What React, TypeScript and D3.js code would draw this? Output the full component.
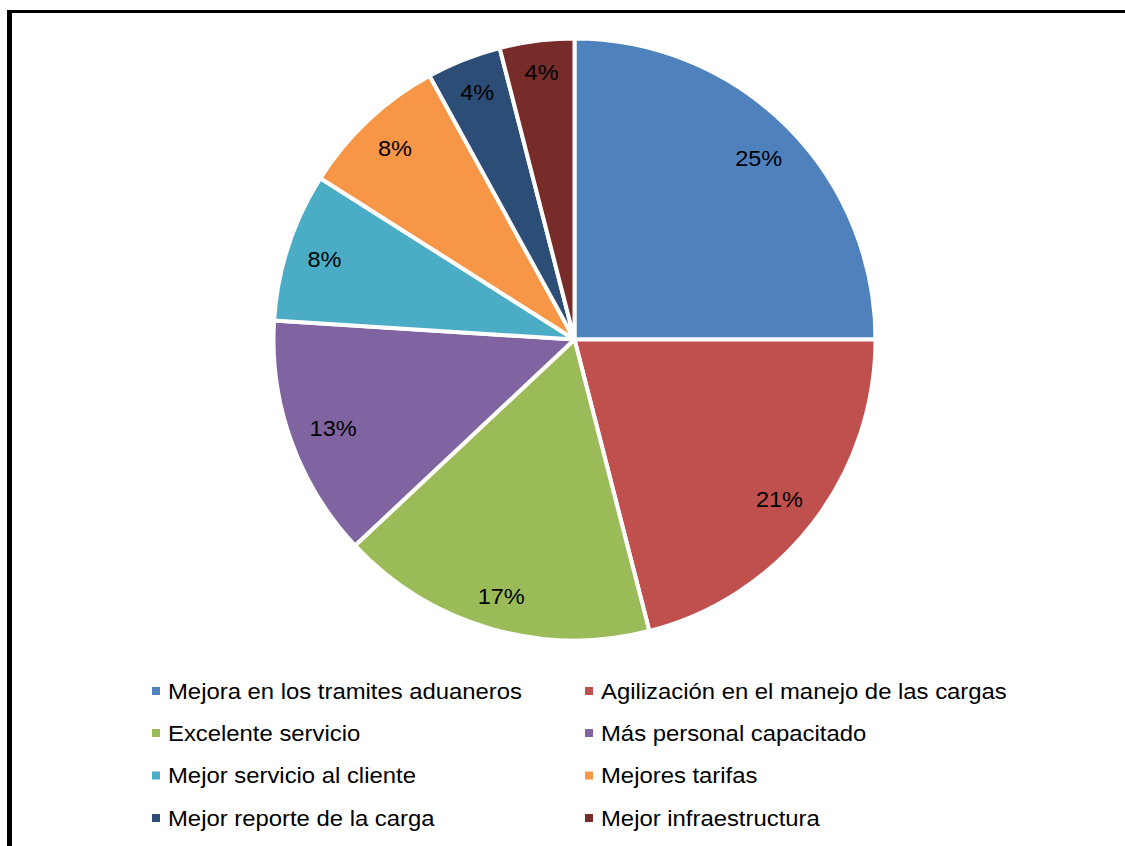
import React from "react";
import * as d3 from "d3";

const categories = [
  "Mejora en los tramites aduaneros",
  "Agilización en el manejo de las cargas",
  "Excelente servicio",
  "Más personal capacitado",
  "Mejor servicio al cliente",
  "Mejores tarifas",
  "Mejor reporte de la carga",
  "Mejor infraestructura",
];
const percents = [25, 21, 17, 13, 8, 8, 4, 4];
const colors = ["#4F81BD", "#C0504D", "#9BBB59", "#8064A2", "#4BACC6", "#F79646", "#2C4D75", "#772C2A"];

const W = 1125;
const H = 846;
const cx = 574.5;
const cy = 339.5;
const R = 301;
const FONT = "'Liberation Sans', Arial, sans-serif";
const labelSize = 22;
const labelStretch = 1.07;
const legendSize = 22;
const legendStretch = 1.085;

function textWidth(s: string, size: number) {
  let w = 0;
  for (const ch of s) w += ch === "%" ? 0.889 : 0.556;
  return w * size * labelStretch;
}

export default function App() {
  const total = d3.sum(percents);
  const pie = d3.pie<number>().sort(null).value((d) => d);
  const arcs = pie(percents);
  const arc = d3.arc<d3.PieArcDatum<number>>().innerRadius(0).outerRadius(R);

  const pad = 17.5;
  const labels = arcs.map((a) => {
    const text = Math.round((a.data / total) * 100) + "%";
    const mid = (a.startAngle + a.endAngle) / 2;
    const dx = Math.sin(mid);
    const dy = -Math.cos(mid);
    const w = textWidth(text, labelSize);
    const h = labelSize;
    const ext = Math.abs(dx) * (w / 2) + Math.abs(dy) * (h / 2);
    const r = R - pad - ext;
    return { text, x: cx + dx * r + 1, y: cy + dy * r + 1.5 };
  });

  const legendRows = [691, 733, 775.5, 818];
  const legendCols = [156, 589];

  return (
    <svg
      width={W}
      height={H}
      style={{ position: "absolute", left: 0, top: 0, background: "#fff" }}
      fontFamily={FONT}
    >
      <rect x={0} y={0} width={W} height={H} fill="#fff" />
      <line x1={7} y1={11.5} x2={W} y2={11.5} stroke="#000" strokeWidth={3} />
      <line x1={9.5} y1={10} x2={9.5} y2={H} stroke="#000" strokeWidth={5} />
      <g transform={`translate(${cx},${cy})`}>
        {arcs.map((a, i) => (
          <path key={i} d={arc(a) || ""} fill={colors[i]} stroke="#fff" strokeWidth={4} strokeLinejoin="round" />
        ))}
      </g>
      {labels.map((l, i) => (
        <text
          key={i}
          transform={`translate(${l.x},${l.y}) scale(${labelStretch},1)`}
          dy="0.35em"
          textAnchor="middle"
          fontSize={labelSize}
          fill="#000"
        >
          {l.text}
        </text>
      ))}
      {categories.map((c, i) => {
        const col = i % 2;
        const row = Math.floor(i / 2);
        const x = legendCols[col];
        const y = legendRows[row];
        return (
          <g key={c}>
            <rect x={x - 4} y={y - 4} width={8} height={8} fill={colors[i]} />
            <text
              transform={`translate(${x + 12},${y}) scale(${legendStretch},1)`}
              dy="0.35em"
              fontSize={legendSize}
              fill="#000"
            >
              {c}
            </text>
          </g>
        );
      })}
    </svg>
  );
}
